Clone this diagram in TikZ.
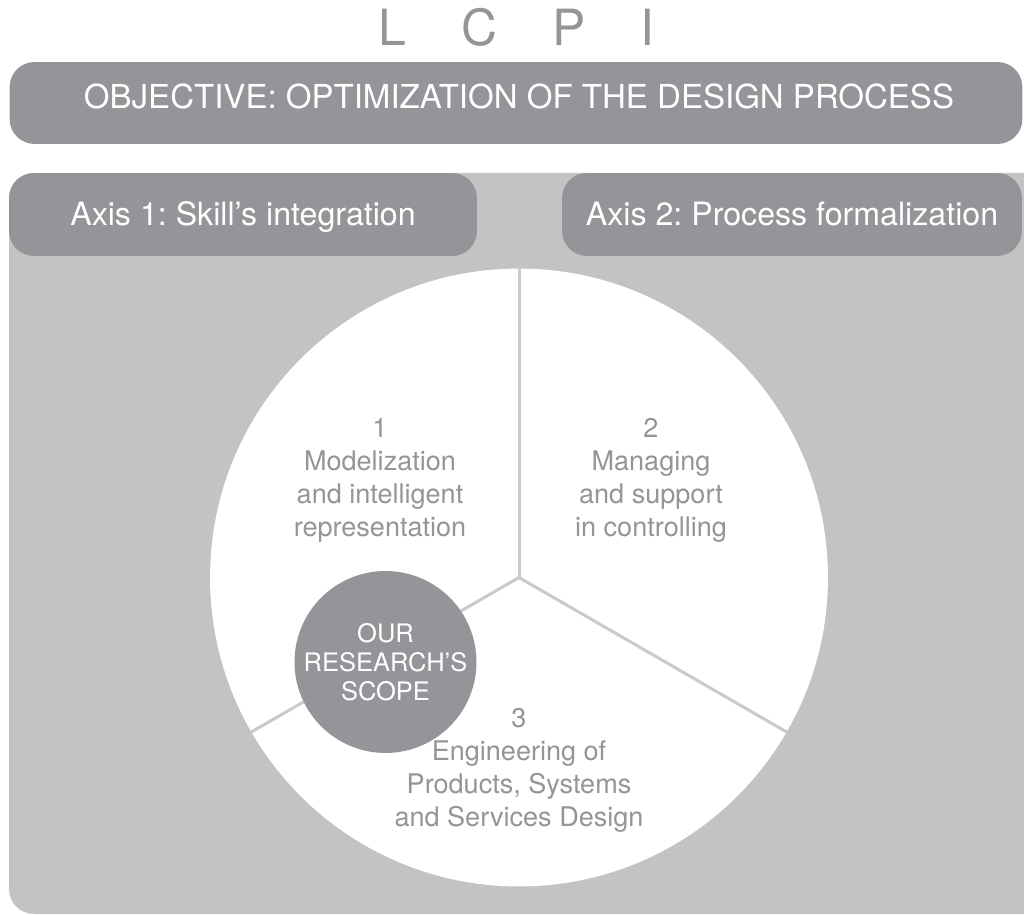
\documentclass[tikz,border=0pt]{standalone}
\usepackage{fontspec}
\setmainfont{TeX Gyre Heros}
\usepackage{xcolor}
\usepackage{tikz}
\usetikzlibrary{shapes.geometric, arrows}
\usetikzlibrary{positioning}
\definecolor{lcpidark}{HTML}{939598}
\definecolor{lcpilight}{HTML}{C2C4C3}
\definecolor{lcpiline}{HTML}{C9CACA}
\tikzstyle{headbar} = [rectangle, rounded corners=0.5cm, fill=lcpidark, text=white, inner sep=0pt, font=\fontsize{18.3}{22}\selectfont, text height=0.46cm]
\tikzstyle{sectortext} = [align=center, text=lcpidark, font=\fontsize{15.4}{18.8}\selectfont]
\tikzstyle{divider} = [lcpiline, line width=1.7pt]
\frenchspacing

\begin{document}
\begin{tikzpicture}[x=0.02cm, y=-0.02cm]
                            \useasboundingbox (0,0) rectangle (1024,915);
                            \clip (0,0) rectangle (1024,915);
                            \node [anchor=base, text=lcpidark, font=\fontsize{28.4}{30}\selectfont] (lcpi) at (516.5,46) {L\hspace{1.1cm}C\hspace{1.1cm}P\hspace{1.1cm}I};
                            \node [headbar, minimum width=20.26cm, minimum height=1.64cm, text depth=0.22cm, font=\fontsize{18.8}{22}\selectfont] (objective) at (516,103) {\hspace{0.12cm}OBJECTIVE: OPTIMIZATION OF THE DESIGN PROCESS};
                            \fill [lcpilight, rounded corners=0.5cm] (9,173) rectangle (1080,914);
                            \node [headbar, minimum width=9.36cm, minimum height=1.66cm, text depth=0cm] (axisone) at (243,214.5) {Axis 1: Skill's integration};
                            \node [headbar, minimum width=9.2cm, minimum height=1.66cm, text depth=0cm] (axistwo) at (792,214.5) {Axis 2: Process formalization};
                            \node [circle, fill=white, inner sep=0pt, minimum size=12.36cm] (pie) at (519,577.5) {};
                            \draw [divider] (pie.center) -- (pie.north);
                            \draw [divider] (pie.center) -- (pie.210);
                            \draw [divider] (pie.center) -- (pie.330);
                            \node [circle, fill=lcpidark, text=white, align=center, inner sep=0pt, minimum size=3.64cm, font=\fontsize{14.5}{16.5}\selectfont] (scope) at (385.5,662) {OUR\\RESEARCH'S\\SCOPE};
                            \node [sectortext] (modelization) at (380,480.7) {1\\Modelization\\and intelligent\\representation};
                            \node [sectortext] (managing) at (651,480.7) {2\\Managing\\and support\\in controlling};
                            \node [sectortext] (engineering) at (519,770) {3\\Engineering of\\Products, Systems\\and Services Design};
                        \end{tikzpicture}
\end{document}
